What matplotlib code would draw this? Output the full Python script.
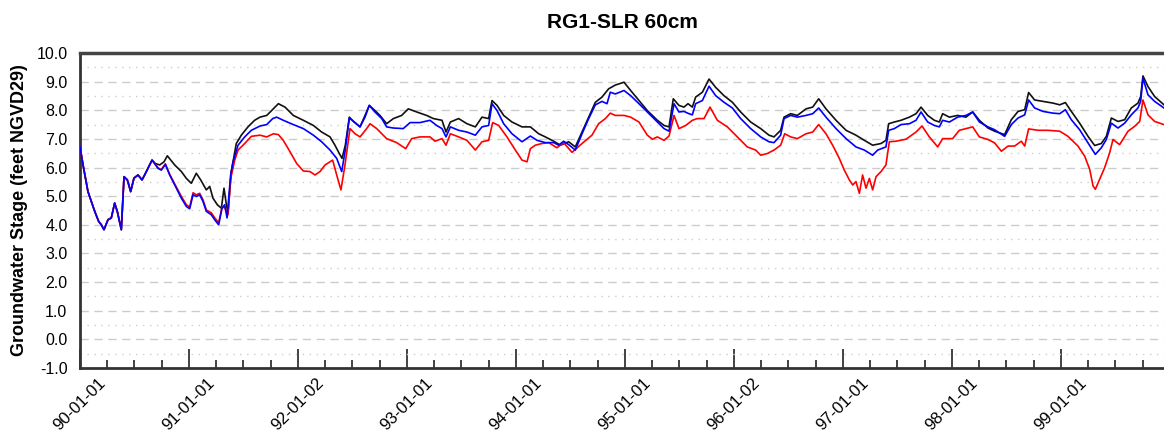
import numpy as np
import matplotlib
matplotlib.use("Agg")
import matplotlib.pyplot as plt
from matplotlib.ticker import MultipleLocator, FormatStrFormatter

plt.rcParams["font.family"] = ["Liberation Sans", "DejaVu Sans"]

# time in years since 1990-01-01, stage in feet NGVD29
# stretch where all three runs are identical
t_common = [0.000, 0.028, 0.073, 0.135, 0.171, 0.196, 0.220, 0.257, 0.287, 0.318,
            0.342, 0.379, 0.404, 0.434, 0.465, 0.495, 0.532, 0.569, 0.593, 0.661]
stage_common = [6.72, 6.09, 5.16, 4.47, 4.12, 4.00, 3.83, 4.18, 4.24, 4.76,
                4.47, 3.83, 5.68, 5.57, 5.16, 5.63, 5.74, 5.57, 5.74, 6.26]

t_black = [0.691, 0.731, 0.771, 0.801, 0.869, 0.930, 0.976, 1.021, 1.067, 1.107,
           1.159, 1.190, 1.220, 1.260, 1.297, 1.321, 1.343, 1.358, 1.388, 1.434,
           1.480, 1.541, 1.602, 1.651, 1.713, 1.758, 1.820, 1.881, 1.957, 2.049,
           2.141, 2.217, 2.294, 2.339, 2.379, 2.404, 2.434, 2.471, 2.514, 2.569,
           2.615, 2.654, 2.706, 2.752, 2.813, 2.875, 2.951, 3.012, 3.089, 3.180,
           3.242, 3.321, 3.358, 3.398, 3.474, 3.550, 3.627, 3.688, 3.749, 3.780,
           3.826, 3.887, 3.963, 4.055, 4.132, 4.208, 4.269, 4.346, 4.407, 4.483,
           4.544, 4.606, 4.667, 4.728, 4.789, 4.850, 4.911, 4.991, 5.052, 5.128,
           5.205, 5.297, 5.358, 5.404, 5.443, 5.495, 5.541, 5.578, 5.618, 5.648,
           5.710, 5.771, 5.832, 5.908, 5.985, 6.061, 6.153, 6.245, 6.321, 6.367,
           6.428, 6.459, 6.520, 6.581, 6.661, 6.722, 6.777, 6.844, 6.936, 7.028,
           7.119, 7.196, 7.272, 7.349, 7.394, 7.419, 7.471, 7.532, 7.609, 7.670,
           7.716, 7.777, 7.838, 7.884, 7.914, 7.976, 8.052, 8.128, 8.190, 8.251,
           8.330, 8.391, 8.483, 8.544, 8.606, 8.667, 8.703, 8.758, 8.835, 8.927,
           8.988, 9.040, 9.095, 9.171, 9.248, 9.309, 9.370, 9.416, 9.462, 9.523,
           9.584, 9.645, 9.706, 9.731, 9.752, 9.798, 9.859, 9.945]
stage_black = [6.14, 6.09, 6.20, 6.41, 6.09, 5.86, 5.62, 5.45, 5.80, 5.57,
               5.22, 5.34, 4.93, 4.70, 4.58, 5.28, 4.70, 4.41, 5.86, 6.84,
               7.13, 7.42, 7.65, 7.76, 7.82, 7.99, 8.23, 8.11, 7.82, 7.65,
               7.47, 7.24, 7.07, 6.78, 6.49, 6.32, 6.78, 7.76, 7.59, 7.42,
               7.82, 8.17, 7.99, 7.82, 7.53, 7.71, 7.82, 8.05, 7.94, 7.82,
               7.71, 7.65, 7.24, 7.59, 7.71, 7.53, 7.42, 7.76, 7.71, 8.34,
               8.17, 7.82, 7.59, 7.42, 7.42, 7.18, 7.07, 6.92, 6.78, 6.90,
               6.72, 7.24, 7.76, 8.28, 8.46, 8.75, 8.88, 8.98, 8.69, 8.34,
               7.99, 7.65, 7.47, 7.42, 8.40, 8.17, 8.11, 8.23, 8.11, 8.46,
               8.63, 9.09, 8.80, 8.51, 8.28, 7.94, 7.59, 7.36, 7.13, 7.07,
               7.30, 7.76, 7.88, 7.82, 8.05, 8.11, 8.40, 8.05, 7.65, 7.30,
               7.13, 6.95, 6.78, 6.84, 6.95, 7.53, 7.59, 7.65, 7.76, 7.88,
               8.11, 7.82, 7.65, 7.59, 7.88, 7.76, 7.82, 7.76, 7.94, 7.65,
               7.38, 7.27, 7.15, 7.67, 7.96, 8.02, 8.62, 8.36, 8.31, 8.25,
               8.19, 8.27, 7.96, 7.55, 7.09, 6.77, 6.84, 7.09, 7.73, 7.61,
               7.67, 8.08, 8.25, 8.48, 9.20, 8.83, 8.48, 8.19]

t_blue = [0.716, 0.746, 0.783, 0.823, 0.884, 0.930, 0.976, 1.006, 1.037, 1.067,
          1.098, 1.128, 1.159, 1.205, 1.235, 1.272, 1.303, 1.327, 1.349, 1.382,
          1.404, 1.450, 1.511, 1.572, 1.651, 1.713, 1.768, 1.804, 1.865, 1.957,
          2.049, 2.141, 2.217, 2.294, 2.355, 2.401, 2.431, 2.471, 2.523, 2.569,
          2.615, 2.654, 2.706, 2.768, 2.813, 2.875, 2.966, 3.028, 3.119, 3.211,
          3.272, 3.321, 3.358, 3.398, 3.474, 3.550, 3.627, 3.688, 3.749, 3.780,
          3.826, 3.887, 3.963, 4.055, 4.132, 4.193, 4.269, 4.346, 4.391, 4.437,
          4.483, 4.544, 4.606, 4.667, 4.728, 4.789, 4.835, 4.865, 4.911, 4.991,
          5.052, 5.128, 5.205, 5.297, 5.358, 5.404, 5.450, 5.495, 5.541, 5.587,
          5.618, 5.648, 5.710, 5.771, 5.832, 5.908, 5.985, 6.061, 6.153, 6.245,
          6.321, 6.367, 6.428, 6.459, 6.520, 6.581, 6.661, 6.722, 6.777, 6.844,
          6.936, 7.028, 7.119, 7.196, 7.272, 7.318, 7.394, 7.419, 7.471, 7.532,
          7.609, 7.670, 7.716, 7.777, 7.838, 7.884, 7.914, 7.976, 8.052, 8.128,
          8.190, 8.251, 8.330, 8.391, 8.483, 8.544, 8.606, 8.667, 8.703, 8.758,
          8.835, 8.927, 8.988, 9.040, 9.095, 9.171, 9.248, 9.315, 9.370, 9.416,
          9.462, 9.523, 9.584, 9.645, 9.706, 9.731, 9.752, 9.798, 9.859, 9.945]
stage_blue = [5.97, 5.91, 6.11, 5.74, 5.28, 4.93, 4.64, 4.56, 5.05, 4.99,
              5.05, 4.82, 4.47, 4.35, 4.18, 4.00, 4.58, 4.70, 4.24, 5.74,
              6.20, 6.78, 7.07, 7.30, 7.45, 7.50, 7.71, 7.76, 7.65, 7.50,
              7.36, 7.13, 6.90, 6.61, 6.32, 5.86, 6.55, 7.73, 7.57, 7.42,
              7.76, 8.17, 7.94, 7.71, 7.42, 7.38, 7.36, 7.57, 7.57, 7.65,
              7.47, 7.36, 7.07, 7.42, 7.30, 7.24, 7.13, 7.42, 7.47, 8.23,
              7.99, 7.53, 7.18, 6.90, 7.10, 6.95, 6.87, 6.87, 6.78, 6.92,
              6.80, 6.61, 7.18, 7.71, 8.19, 8.31, 8.23, 8.63, 8.57, 8.69,
              8.51, 8.23, 7.94, 7.59, 7.36, 7.27, 8.23, 7.94, 7.96, 7.88,
              7.84, 8.23, 8.34, 8.84, 8.51, 8.28, 8.08, 7.71, 7.36, 7.07,
              6.90, 6.87, 7.13, 7.71, 7.82, 7.76, 7.82, 7.88, 8.08, 7.76,
              7.36, 7.01, 6.72, 6.61, 6.43, 6.61, 6.72, 7.30, 7.36, 7.50,
              7.53, 7.65, 7.94, 7.59, 7.47, 7.42, 7.65, 7.59, 7.76, 7.82,
              7.94, 7.59, 7.42, 7.32, 7.09, 7.50, 7.73, 7.84, 8.36, 8.08,
              7.96, 7.90, 7.88, 8.02, 7.67, 7.32, 6.86, 6.46, 6.69, 6.98,
              7.55, 7.38, 7.55, 7.84, 8.08, 8.31, 9.12, 8.54, 8.31, 8.08]

t_red = [0.716, 0.746, 0.783, 0.823, 0.884, 0.930, 0.976, 1.006, 1.037, 1.067,
         1.098, 1.128, 1.159, 1.205, 1.235, 1.272, 1.303, 1.327, 1.358, 1.382,
         1.419, 1.450, 1.511, 1.572, 1.651, 1.713, 1.774, 1.820, 1.865, 1.927,
         1.988, 2.049, 2.110, 2.156, 2.202, 2.248, 2.318, 2.355, 2.394, 2.431,
         2.477, 2.523, 2.569, 2.630, 2.661, 2.722, 2.813, 2.905, 2.988, 3.043,
         3.119, 3.211, 3.257, 3.321, 3.358, 3.398, 3.474, 3.550, 3.627, 3.688,
         3.749, 3.786, 3.841, 3.917, 3.994, 4.055, 4.101, 4.132, 4.177, 4.239,
         4.300, 4.376, 4.437, 4.514, 4.606, 4.697, 4.758, 4.820, 4.865, 4.911,
         4.991, 5.052, 5.128, 5.205, 5.251, 5.297, 5.358, 5.404, 5.450, 5.495,
         5.557, 5.618, 5.664, 5.725, 5.780, 5.847, 5.939, 6.031, 6.122, 6.199,
         6.245, 6.306, 6.367, 6.428, 6.465, 6.520, 6.581, 6.661, 6.722, 6.777,
         6.844, 6.905, 6.966, 7.012, 7.058, 7.089, 7.119, 7.150, 7.180, 7.211,
         7.242, 7.272, 7.303, 7.349, 7.394, 7.425, 7.486, 7.578, 7.670, 7.725,
         7.792, 7.869, 7.914, 8.006, 8.067, 8.128, 8.190, 8.251, 8.330, 8.391,
         8.453, 8.514, 8.575, 8.636, 8.667, 8.703, 8.789, 8.881, 8.988, 9.064,
         9.156, 9.217, 9.263, 9.294, 9.315, 9.355, 9.401, 9.446, 9.477, 9.538,
         9.615, 9.676, 9.722, 9.752, 9.798, 9.859, 9.945]
stage_red = [5.99, 5.93, 6.13, 5.76, 5.32, 4.99, 4.70, 4.62, 5.12, 5.05,
             5.10, 4.88, 4.52, 4.42, 4.25, 4.07, 4.62, 4.60, 4.35, 5.60,
             6.25, 6.61, 6.84, 7.09, 7.13, 7.07, 7.18, 7.15, 6.95, 6.55,
             6.14, 5.88, 5.86, 5.74, 5.86, 6.09, 6.26, 5.74, 5.22, 6.09,
             7.36, 7.18, 7.07, 7.36, 7.53, 7.36, 7.01, 6.87, 6.66, 7.01,
             7.07, 7.07, 6.92, 7.01, 6.78, 7.18, 7.07, 6.95, 6.61, 6.90,
             6.95, 7.57, 7.47, 7.07, 6.61, 6.26, 6.20, 6.66, 6.78, 6.84,
             6.87, 6.69, 6.87, 6.53, 6.84, 7.13, 7.53, 7.71, 7.90, 7.82,
             7.82, 7.76, 7.59, 7.13, 6.99, 7.07, 6.95, 7.10, 7.82, 7.36,
             7.47, 7.65, 7.71, 7.71, 8.11, 7.65, 7.42, 7.07, 6.72, 6.61,
             6.43, 6.49, 6.61, 6.78, 7.18, 7.07, 7.01, 7.18, 7.24, 7.50,
             7.18, 6.78, 6.32, 5.91, 5.57, 5.39, 5.51, 5.10, 5.74, 5.28,
             5.62, 5.22, 5.68, 5.86, 6.09, 6.90, 6.92, 6.99, 7.24, 7.45,
             7.07, 6.72, 7.01, 7.01, 7.30, 7.36, 7.42, 7.07, 6.98, 6.86,
             6.57, 6.75, 6.75, 6.92, 6.75, 7.35, 7.30, 7.30, 7.27, 7.09,
             6.75, 6.40, 5.94, 5.36, 5.24, 5.59, 6.00, 6.51, 6.98, 6.80,
             7.27, 7.44, 7.61, 8.36, 7.84, 7.61, 7.50]

year_ticks = list(range(10))
year_labels = ["90-01-01", "91-01-01", "92-01-02", "93-01-01", "94-01-01",
               "95-01-01", "96-01-02", "97-01-01", "98-01-01", "99-01-01"]

fig = plt.figure(figsize=(11.64, 4.4), dpi=100)
ax = fig.add_axes([80 / 1164, 1 - 368 / 440, 1 - 80 / 1164, (368 - 53) / 440])

ax.plot(t_common + t_black, stage_common + stage_black, color="#111111", lw=1.2, zorder=3)
ax.plot(t_common + t_red, stage_common + stage_red, color="#ff0000", lw=1.2, zorder=4)
ax.plot(t_common + t_blue, stage_common + stage_blue, color="#0000ff", lw=1.2, zorder=5)

ax.set_xlim(0, 9.945)
ax.set_ylim(-1, 10)

ax.yaxis.set_major_locator(MultipleLocator(1.0))
ax.yaxis.set_minor_locator(MultipleLocator(0.5))
ax.yaxis.set_major_formatter(FormatStrFormatter("%.1f"))
ax.grid(which="major", axis="y", color="#cccccc", linestyle=(0, (6, 4)), lw=1.0)
ax.grid(which="minor", axis="y", color="#cccccc", linestyle=(0, (1, 4)), lw=1.0)
ax.tick_params(axis="y", which="both", length=0, pad=9, labelsize=11.5)

ax.set_xticks(year_ticks)
ax.set_xticklabels(year_labels, rotation=45, ha="center")
ax.xaxis.set_minor_locator(MultipleLocator(0.25))
ax.tick_params(axis="x", which="major", direction="in", length=14, width=1.2,
               color="#222222", labelsize=12, pad=5)
ax.tick_params(axis="x", which="minor", direction="in", length=6, width=1.2,
               color="#222222")

for side in ["left", "bottom"]:
    ax.spines[side].set_color("#333333")
    ax.spines[side].set_linewidth(2)
ax.spines["top"].set_color("#444444")
ax.spines["top"].set_linewidth(2.5)
ax.spines["right"].set_visible(False)

ax.set_title("RG1-SLR 60cm", fontsize=15, fontweight="bold", pad=18)
ax.set_ylabel("Groundwater Stage (feet NGVD29)", fontsize=13, fontweight="bold", labelpad=6)

fig.savefig("out.png", dpi=100)
